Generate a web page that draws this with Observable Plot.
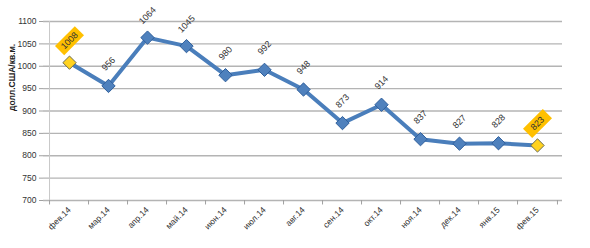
<!DOCTYPE html>
<html><head><meta charset="utf-8">
<script src="https://cdn.jsdelivr.net/npm/d3@7"></script>
<script src="https://cdn.jsdelivr.net/npm/@observablehq/plot@0.6"></script>
<style>body{margin:0;background:#fff}#chart{position:absolute;left:0;top:0}</style>
</head><body><div id="chart"></div>
<script>
const months = ["фев.14","мар.14","апр.14","май.14","июн.14","июл.14","авг.14","сен.14","окт.14","ноя.14","дек.14","янв.15","фев.15"];
const values = [1008,956,1064,1045,980,992,948,873,914,837,827,828,823];
const highlighted = ["фев.14","фев.15"];
const yTicks = [700,750,800,850,900,950,1000,1050,1100];
const yTitle = "долл.США/кв.м.";

const data = months.map((m, i) => ({month: m, value: values[i], hl: highlighted.includes(m)}));
const hlData = data.filter(d => d.hl);

const W = 590, H = 248, ML = 43, MR = 28, MT = 21, MB = 48;
const step = (W - ML - MR) / months.length;

const boxSymbol = {
  draw(ctx) {
    const a = 14, b = 6.5, c = Math.SQRT1_2;
    const pts = [[-a,-b],[a,-b],[a,b],[-a,b]].map(([x,y]) => [(x + y) * c, (-x + y) * c]);
    ctx.moveTo(pts[0][0], pts[0][1]);
    for (let i = 1; i < 4; i++) ctx.lineTo(pts[i][0], pts[i][1]);
    ctx.closePath();
  }
};

const chart = Plot.plot({
  width: W, height: H,
  marginLeft: ML, marginRight: MR, marginTop: MT, marginBottom: MB,
  style: {fontFamily: "'Liberation Sans', Arial, sans-serif", fontSize: "8.5px", color: "#333", background: "#fff"},
  x: {type: "point", domain: months, padding: 0.5, align: 0.5},
  y: {domain: [700, 1100]},
  marks: [
    Plot.ruleY(yTicks, {stroke: "#b4b4b4", strokeWidth: 1.3}),
    Plot.ruleX([months[0]], {dx: -step / 2, y1: 700, y2: 1100, stroke: "#c8c8c8"}),
    Plot.ruleX(months, {dx: -step / 2, y1: 700, y2: 690, stroke: "#a0a0a0"}),
    Plot.ruleX([months[months.length - 1]], {dx: step / 2, y1: 700, y2: 690, stroke: "#a0a0a0"}),
    Plot.line(data, {x: "month", y: "value", stroke: "#4A7EBB", strokeWidth: 4, strokeLinejoin: "round"}),
    Plot.dot(data, {x: "month", y: "value", symbol: "diamond2", r: 6,
      fill: d => d.hl ? "#FFD21F" : "#4F81BD", stroke: d => d.hl ? "#6b6b50" : "#2f5f9c", strokeWidth: 1}),
    Plot.dot(hlData, {x: "month", y: "value", symbol: boxSymbol, fill: "#FFC000", stroke: "none", dy: -22}),
    Plot.text(data, {x: "month", y: "value", text: d => String(d.value), rotate: -45, dy: -22, fontSize: 9, fill: "#333"}),
    Plot.axisY({ticks: yTicks, tickFormat: d => String(d), tickSize: 4, tickPadding: 3, stroke: "#a0a0a0", fontSize: 8.5, label: null}),
    Plot.axisX({tickSize: 0, tickRotate: -45, tickPadding: 8, fontSize: 8.5, label: null}),
    Plot.text([yTitle], {frameAnchor: "left", dx: -31, rotate: -90, fontWeight: "bold", fontSize: 8.5, fill: "#222"})
  ]
});
document.getElementById("chart").appendChild(chart);
</script></body></html>
